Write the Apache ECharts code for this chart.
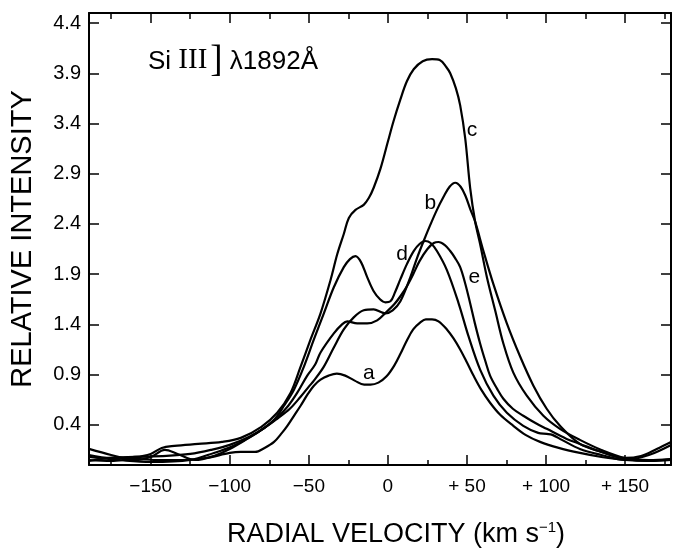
<!DOCTYPE html>
<html>
<head>
<meta charset="utf-8">
<script src="https://cdn.jsdelivr.net/npm/echarts@6/dist/echarts.min.js"></script>
<style>
html,body{margin:0;padding:0;background:#fff;}
#chart{width:676px;height:553px;}
</style>
</head>
<body>
<div id="chart"></div>
<script>
// Radial velocity (km/s), relative intensity pairs for each profile
const curveA = [[-189,0.05],[-175,0.04],[-160,0.06],[-145,0.05],[-130,0.05],[-115,0.07],[-100,0.12],[-93,0.13],[-84,0.13],[-78,0.17],[-72,0.23],[-67,0.32],[-63.6,0.39],[-59,0.5],[-55.2,0.59],[-50.5,0.71],[-46.8,0.79],[-42.6,0.85],[-37.5,0.89],[-32.3,0.91],[-27,0.89],[-21,0.84],[-15,0.8],[-11,0.8],[-6,0.82],[-1,0.88],[4,0.99],[8,1.11],[12,1.24],[16,1.35],[20.5,1.42],[24,1.45],[27.9,1.45],[32,1.43],[37.3,1.35],[41.5,1.26],[45.7,1.15],[50,1.02],[54.1,0.89],[59,0.75],[64.6,0.62],[71,0.5],[79.3,0.39],[87,0.3],[96.2,0.23],[108,0.17],[121.4,0.12],[135,0.08],[150,0.05],[165,0.04],[179,0.05]];
const curveB = [[-189,0.04],[-175,0.07],[-160,0.08],[-140,0.09],[-125,0.11],[-112,0.15],[-100,0.2],[-88,0.28],[-78,0.37],[-70,0.46],[-62,0.56],[-55.2,0.68],[-50,0.78],[-46.8,0.84],[-40.5,0.98],[-34.2,1.17],[-27.9,1.35],[-21.6,1.47],[-15.3,1.54],[-9,1.55],[-4,1.52],[-1.6,1.51],[3,1.54],[7.9,1.63],[14.2,1.87],[18.4,2.06],[22.6,2.23],[26.8,2.39],[31,2.54],[35.2,2.67],[39,2.77],[42.6,2.81],[46,2.77],[49,2.68],[52,2.55],[55.2,2.42],[60.4,2.13],[66.7,1.8],[75.2,1.41],[83.6,1.08],[92,0.79],[100.4,0.56],[108.8,0.39],[121.4,0.21],[135,0.13],[150,0.07],[160,0.09],[170,0.16],[179,0.23]];
const curveC = [[-189,0.1],[-175,0.07],[-160,0.08],[-150,0.11],[-143,0.17],[-135,0.19],[-120,0.21],[-105,0.23],[-93,0.27],[-80,0.38],[-70,0.52],[-61.5,0.72],[-55.2,0.98],[-48.9,1.25],[-42.6,1.51],[-36.3,1.84],[-32,2.1],[-27.9,2.3],[-24.7,2.46],[-20.5,2.54],[-15.3,2.59],[-12,2.66],[-9,2.76],[-4.7,2.95],[0,3.22],[3.5,3.42],[7.9,3.64],[12,3.82],[16.3,3.94],[22,4.02],[27.9,4.04],[33,4.03],[37,3.96],[39.4,3.9],[43,3.75],[45.7,3.58],[48.9,3.25],[52,2.76],[55.2,2.42],[58.3,2.2],[62.6,1.87],[67.8,1.54],[73,1.21],[79.3,0.92],[87.8,0.69],[98.3,0.49],[108.8,0.36],[121.4,0.25],[135,0.15],[150,0.07],[165,0.05],[179,0.06]];
const curveD = [[-189,0.16],[-175,0.1],[-160,0.05],[-150,0.08],[-141,0.15],[-133,0.11],[-122,0.05],[-110,0.09],[-100,0.16],[-90,0.25],[-80,0.35],[-72,0.45],[-65.7,0.59],[-59.4,0.75],[-53.1,0.98],[-46.8,1.25],[-40.5,1.51],[-34.2,1.77],[-27.9,1.97],[-24,2.05],[-20.5,2.08],[-17,2.02],[-13.1,1.87],[-9,1.73],[-5,1.65],[-1.6,1.62],[1.6,1.63],[4.5,1.72],[7.9,1.85],[12,2.0],[16.3,2.13],[20,2.2],[23.7,2.23],[27,2.21],[31,2.13],[37.3,1.94],[44.7,1.61],[51,1.28],[58.3,0.95],[66.7,0.69],[75.2,0.52],[85.6,0.39],[95,0.32],[100.4,0.31],[104,0.3],[110,0.25],[121.4,0.16],[135,0.1],[150,0.05],[165,0.1],[179,0.2]];
const curveE = [[-189,0.08],[-170,0.05],[-150,0.03],[-125,0.05],[-110,0.12],[-98,0.19],[-88,0.27],[-78,0.37],[-70,0.47],[-63,0.59],[-57.3,0.72],[-51,0.89],[-46,1.0],[-42.6,1.12],[-34.2,1.31],[-29,1.4],[-25.7,1.43],[-19.4,1.41],[-13.1,1.41],[-6.8,1.44],[-0.5,1.53],[4,1.6],[7.9,1.68],[12,1.78],[16,1.9],[20,2.03],[25,2.15],[29,2.21],[32,2.22],[36,2.19],[39.4,2.13],[42.5,2.06],[45.7,1.97],[49,1.8],[52,1.61],[55,1.41],[58.3,1.21],[61.5,1.04],[64.6,0.89],[69,0.76],[73,0.66],[79,0.56],[85.6,0.49],[93,0.42],[100.4,0.36],[113,0.26],[121.4,0.21],[135,0.13],[150,0.06],[165,0.04],[179,0.06]];

const curveNames = ['a','b','c','d','e'];
const labelPoints = [[-12,0.91],[26.8,2.61],[53.1,3.33],[9.0,2.10],[54.6,1.87]];

const xMajorTicks = [-150,-100,-50,0,50,100,150];
const xMinorTicks = [-175,-125,-75,-25,25,75,125,175];
const yTicks = [0.4,0.9,1.4,1.9,2.4,2.9,3.4,3.9,4.4];

const X_MIN = -189, X_MAX = 179, Y_MIN = 0, Y_MAX = 4.5;
const FONT = '"Liberation Sans", Arial, Helvetica, sans-serif';
const SERIF = '"Liberation Serif", "Times New Roman", serif';

const chart = echarts.init(document.getElementById('chart'), null, {renderer:'canvas'});

function fmtX(v){
  if (v > 0) return '+ ' + v;
  if (v < 0) return '\u2212' + Math.abs(v);
  return '0';
}

const black = '#000';
function xAxisDef(pos, ticks, len, showLabel, showLine, name){
  const ax = {
    type:'value', position:pos, min:X_MIN, max:X_MAX,
    splitLine:{show:false},
    axisLine:{show:showLine, onZero:false, lineStyle:{color:black, width:2}},
    axisTick:{show:true, inside:true, length:len, customValues:ticks, lineStyle:{color:black, width:1.5}},
    axisLabel:{show:showLabel, customValues:ticks, formatter:fmtX, color:black, fontSize:19, fontFamily:FONT, margin:12}
  };
  if (name){
    ax.name = name;
    ax.nameLocation = 'middle';
    ax.nameGap = 55;
    ax.nameTextStyle = {color:black, fontSize:27, fontFamily:FONT, padding:[0,0,0,32],
      rich:{sup:{fontSize:15, fontFamily:FONT, color:black, verticalAlign:'top', padding:[0,0,14,0]}}};
  }
  return ax;
}
function yAxisDef(pos, showLabel, name){
  const ax = {
    type:'value', position:pos, min:Y_MIN, max:Y_MAX,
    splitLine:{show:false},
    axisLine:{show:true, onZero:false, lineStyle:{color:black, width:2}},
    axisTick:{show:true, inside:true, length:10, customValues:yTicks, lineStyle:{color:black, width:1.5}},
    axisLabel:{show:showLabel, customValues:yTicks, formatter:v=>v.toFixed(1), color:black, fontSize:20, fontFamily:FONT, margin:8}
  };
  if (name){
    ax.name = name;
    ax.nameLocation = 'middle';
    ax.nameGap = 52;
    ax.nameTextStyle = {color:black, fontSize:29, fontFamily:FONT};
  }
  return ax;
}

const curves = [curveA, curveB, curveC, curveD, curveE];
const series = curves.map((d,i)=>({
  name: curveNames[i], type:'line', data:d, smooth:0.35, symbol:'none',
  lineStyle:{color:black, width:2.2}, xAxisIndex:0, yAxisIndex:0, z:3
}));
series.push({
  type:'scatter', symbolSize:0, xAxisIndex:0, yAxisIndex:0, silent:true,
  itemStyle:{color:black, opacity:1},
  data: labelPoints.map((p,i)=>({value:p, name:curveNames[i]})),
  label:{show:true, position:'inside', formatter:p=>p.name, color:'#000', opacity:1, textBorderWidth:0, fontSize:21, fontFamily:FONT}
});

chart.setOption({
  animation:false,
  backgroundColor:'#fff',
  title:{
    left:143, top:38,
    text:'{s|Si }{r|III}{br|]}{s| \u03bb1892\u00c5}',
    textStyle:{fontWeight:'normal', rich:{
      s:{fontSize:26, fontFamily:FONT, fontWeight:'normal', color:black, verticalAlign:'bottom'},
      r:{fontSize:29, fontFamily:SERIF, fontWeight:'normal', color:black, verticalAlign:'bottom'},
      br:{fontSize:37, fontFamily:SERIF, fontWeight:'normal', color:black, verticalAlign:'bottom', padding:[0,0,-5,3]}
    }}
  },
  grid:{left:89, right:5, top:13, bottom:82, containLabel:false},
  xAxis:[
    xAxisDef('bottom', xMajorTicks, 10, true, true, 'RADIAL VELOCITY (km s{sup|\u22121})'),
    xAxisDef('bottom', xMinorTicks, 5, false, false),
    xAxisDef('top', xMajorTicks, 10, false, true),
    xAxisDef('top', xMinorTicks, 6, false, false)
  ],
  yAxis:[
    yAxisDef('left', true, 'RELATIVE INTENSITY'),
    yAxisDef('right', false)
  ],
  series:series
});
</script>
</body>
</html>
